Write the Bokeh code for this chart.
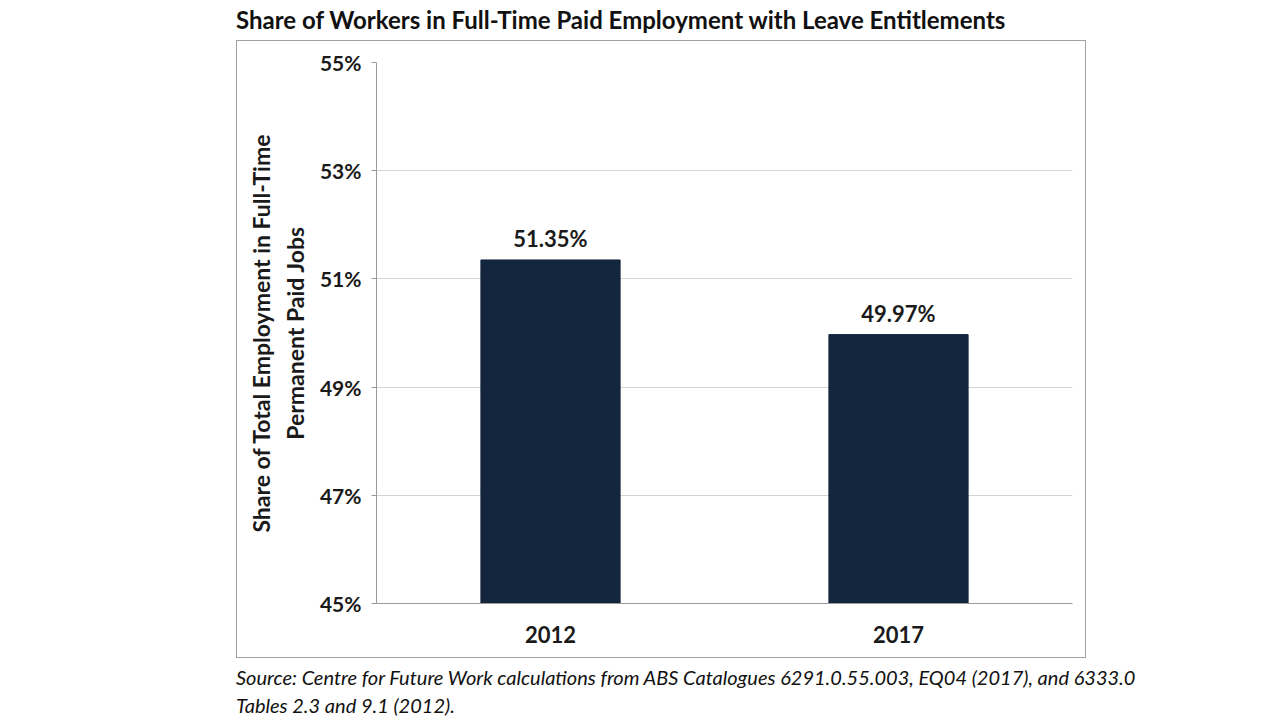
from bokeh.plotting import figure
from bokeh.models import (FixedTicker, PrintfTickFormatter, ColumnDataSource,
                          Range1d, FactorRange, Div)
from bokeh.layouts import column
from bokeh.embed import file_html
from bokeh.resources import INLINE
from bokeh.core.properties import value

# ---- data ----
years = ["2012", "2017"]
shares = [51.35, 49.97]
share_labels = ["51.35%", "49.97%"]
y_ticks = [45, 47, 49, 51, 53, 55]

title_text = "Share of Workers in Full-Time Paid Employment with Leave Entitlements"
ylabel_text = "Share of Total Employment in Full-Time\nPermanent Paid Jobs"
source_line1 = "Source: Centre for Future Work calculations from ABS Catalogues 6291.0.55.003, EQ04 (2017), and 6333.0"
source_line2 = "Tables 2.3 and 9.1 (2012)."

FONT = "Lato"
BAR = "#14253E"
TXT = "#1a1a1a"

BOX_L, BOX_T = 236, 40
W, H = 850, 618  # box size
FL, FR, FT, FB = 375 - BOX_L, 1071 - BOX_L, 61 - BOX_T, 602 - BOX_T

p = figure(width=W, height=H, x_range=FactorRange(*years), y_range=Range1d(45, 55),
           output_backend="svg", toolbar_location=None,
           min_border_left=FL, min_border_right=W - FR,
           min_border_top=FT, min_border_bottom=H - FB,
           margin=(0, 0, 0, BOX_L),
           styles={"border": "1.5px solid #a0a0a0", "box-sizing": "border-box"})
p.outline_line_color = None
p.background_fill_color = "white"
p.border_fill_color = "white"

src = ColumnDataSource(dict(x=years, top=shares, lab=share_labels))
p.vbar(x="x", top="top", bottom=45, width=0.4, source=src,
       fill_color=BAR, line_color=BAR)
p.text(x="x", y="top", text="lab", source=src, y_offset=-8,
       text_align="center", text_baseline="bottom",
       text_font=value(FONT), text_font_style="bold", text_font_size="22px",
       text_color=TXT)

# y axis
p.yaxis.ticker = FixedTicker(ticks=y_ticks)
p.yaxis.formatter = PrintfTickFormatter(format="%d%%")
p.yaxis.major_label_text_font = FONT
p.yaxis.major_label_text_font_style = "bold"
p.yaxis.major_label_text_font_size = "21px"
p.yaxis.major_label_text_color = TXT
p.yaxis.major_label_standoff = 10
p.yaxis.major_tick_out = 5
p.yaxis.major_tick_in = 0
p.yaxis.minor_tick_line_color = None
p.yaxis.axis_line_color = "#9a9a9a"
p.yaxis.major_tick_line_color = "#9a9a9a"
p.yaxis.axis_label = ylabel_text
p.yaxis.axis_label_text_font = FONT
p.yaxis.axis_label_text_font_style = "bold"
p.yaxis.axis_label_text_font_size = "23px"
p.yaxis.axis_label_text_color = TXT
p.yaxis.axis_label_standoff = 8

# x axis
p.xaxis.major_label_text_font = FONT
p.xaxis.major_label_text_font_style = "bold"
p.xaxis.major_label_text_font_size = "22px"
p.xaxis.major_label_text_color = TXT
p.xaxis.major_label_standoff = 16
p.xaxis.major_tick_line_color = None
p.xaxis.axis_line_color = "#9a9a9a"

p.xgrid.grid_line_color = None
p.ygrid.grid_line_color = "#d4d4d4"
p.ygrid.grid_line_width = 1

title_div = Div(text=title_text, width=1040, height=BOX_T, margin=(0, 0, 0, BOX_L),
                styles={"font-family": FONT, "font-weight": "bold", "font-size": "24px",
                        "color": "#111111", "line-height": "40px", "white-space": "nowrap"})
source_div = Div(text=source_line1 + "<br>" + source_line2, width=1040, height=56,
                 margin=(5, 0, 0, BOX_L),
                 styles={"font-family": FONT, "font-style": "italic", "font-size": "20px",
                         "color": "#111111", "line-height": "28px", "white-space": "nowrap"})

layout = column(title_div, p, source_div, spacing=0, margin=0)
open("out.html", "w").write(file_html(layout, INLINE))
